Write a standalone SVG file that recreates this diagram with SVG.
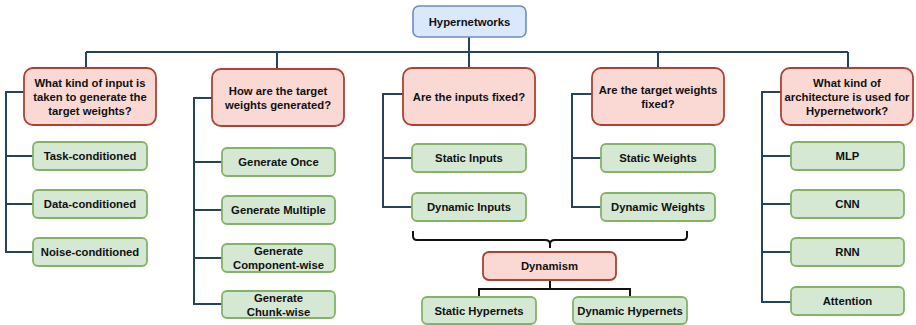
<svg xmlns="http://www.w3.org/2000/svg" width="916" height="325" viewBox="0 0 916 325">
<style>
text{font-family:"Liberation Sans",Arial,sans-serif;font-weight:bold;font-size:11.3px;fill:#111;text-anchor:middle;dominant-baseline:central}
.root{fill:#dae8fc;stroke:#6c8ebf;stroke-width:1.6}
.q{fill:#fad9d5;stroke:#ae4132;stroke-width:1.8}
.leaf{fill:#d5e8d4;stroke:#82b366;stroke-width:1.8}
.con{fill:none;stroke:#23445d;stroke-width:2}
.blk{fill:none;stroke:#111;stroke-width:2}
</style>
<g id="connectors">
<path class="con" d="M469 37V68M86 52H848M86 52V68M277 52V68M658 52V68M848 52V68"/>
<path class="con" d="M24 92H6V252H33M6 156H33M6 204H33"/>
<path class="con" d="M212 98H194V304H222M194 162H222M194 210H222M194 258H222"/>
<path class="con" d="M403 94H383V207H412M383 158H412"/>
<path class="con" d="M592 94H572V207H601M572 158H601"/>
<path class="con" d="M781 92H762V302H791M762 156H791M762 204H791M762 252H791"/>
<path class="blk" d="M413 231V236Q413 240 417 240H545Q550 240 550 244V248M550 244Q550 240 555 240H683Q687 240 687 236V231"/>
<path class="blk" d="M550 280V289M479 297V289H630V297"/>
</g>
<g id="hypernetworks"><rect class="root" x="413" y="6" width="113" height="31" rx="6"/><text x="469.5" y="22">Hypernetworks</text></g>
<g id="q-input"><rect class="q" x="24" y="68" width="132" height="57" rx="9"/><text x="90" y="83">What kind of input is</text><text x="90" y="97">taken to generate the</text><text x="90" y="111">target weights?</text></g>
<g id="q-generated"><rect class="q" x="212" y="69" width="132" height="57" rx="9"/><text x="278" y="91">How are the target</text><text x="278" y="105">weights generated?</text></g>
<g id="q-inputs-fixed"><rect class="q" x="403" y="68" width="132" height="57" rx="9"/><text x="469" y="97">Are the inputs fixed?</text></g>
<g id="q-weights-fixed"><rect class="q" x="592" y="68" width="132" height="57" rx="9"/><text x="658" y="90">Are the target weights</text><text x="658" y="104">fixed?</text></g>
<g id="q-arch"><rect class="q" x="781" y="68" width="132" height="57" rx="9"/><text x="847" y="83">What kind of</text><text x="847" y="97">architecture is used for</text><text x="847" y="111">Hypernetwork?</text></g>
<g id="task"><rect class="leaf" x="33" y="142" width="114" height="28" rx="5"/><text x="90" y="156">Task-conditioned</text></g>
<g id="data"><rect class="leaf" x="33" y="190" width="114" height="28" rx="5"/><text x="90" y="204">Data-conditioned</text></g>
<g id="noise"><rect class="leaf" x="33" y="238" width="114" height="28" rx="5"/><text x="90" y="252">Noise-conditioned</text></g>
<g id="gen-once"><rect class="leaf" x="222" y="148" width="113" height="28" rx="5"/><text x="278.5" y="162">Generate Once</text></g>
<g id="gen-multiple"><rect class="leaf" x="222" y="196" width="113" height="28" rx="5"/><text x="278.5" y="210">Generate Multiple</text></g>
<g id="gen-component"><rect class="leaf" x="222" y="244" width="113" height="28" rx="5"/><text x="278.5" y="251">Generate</text><text x="278.5" y="265">Component-wise</text></g>
<g id="gen-chunk"><rect class="leaf" x="222" y="291" width="113" height="27" rx="5"/><text x="278.5" y="297.5">Generate</text><text x="278.5" y="311.5">Chunk-wise</text></g>
<g id="static-inputs"><rect class="leaf" x="412" y="144" width="114" height="28" rx="5"/><text x="469" y="158">Static Inputs</text></g>
<g id="dynamic-inputs"><rect class="leaf" x="412" y="193" width="114" height="28" rx="5"/><text x="469" y="207">Dynamic Inputs</text></g>
<g id="static-weights"><rect class="leaf" x="601" y="144" width="114" height="28" rx="5"/><text x="658" y="158">Static Weights</text></g>
<g id="dynamic-weights"><rect class="leaf" x="601" y="193" width="114" height="28" rx="5"/><text x="658" y="207">Dynamic Weights</text></g>
<g id="mlp"><rect class="leaf" x="791" y="142" width="113" height="28" rx="5"/><text x="847.5" y="156">MLP</text></g>
<g id="cnn"><rect class="leaf" x="791" y="190" width="113" height="28" rx="5"/><text x="847.5" y="204">CNN</text></g>
<g id="rnn"><rect class="leaf" x="791" y="238" width="113" height="28" rx="5"/><text x="847.5" y="252">RNN</text></g>
<g id="attention"><rect class="leaf" x="791" y="287" width="113" height="28" rx="5"/><text x="847.5" y="301">Attention</text></g>
<g id="dynamism"><rect class="q" x="483" y="252" width="133" height="28" rx="6"/><text x="549.5" y="266">Dynamism</text></g>
<g id="static-hypernets"><rect class="leaf" x="422" y="297" width="114" height="27" rx="5"/><text x="479" y="310.5">Static Hypernets</text></g>
<g id="dynamic-hypernets"><rect class="leaf" x="573" y="297" width="114" height="27" rx="5"/><text x="630" y="310.5">Dynamic Hypernets</text></g>
</svg>
